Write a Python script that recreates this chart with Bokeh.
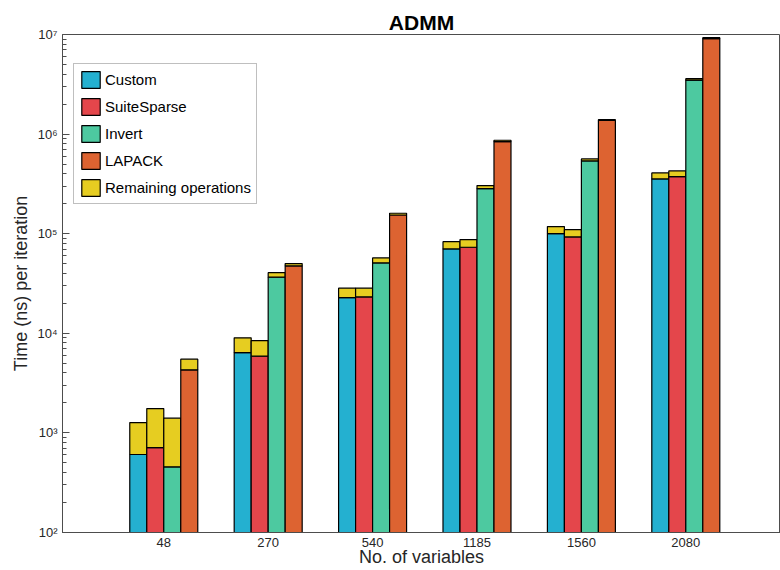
from bokeh.plotting import figure
from bokeh.models import Range1d, FixedTicker, CustomJSTickFormatter, Legend, LegendItem
from bokeh.embed import file_html
from bokeh.resources import INLINE

categories = ["48", "270", "540", "1185", "1560", "2080"]
series_names = ["Custom", "SuiteSparse", "Invert", "LAPACK"]
remaining_name = "Remaining operations"

custom_base = [607, 6400, 22800, 70300, 100200, 354800]
custom_rem = [663, 2600, 5600, 12900, 17600, 52800]
suite_base = [713, 5890, 23200, 73100, 92900, 374000]
suite_rem = [1040, 2560, 5200, 14100, 17000, 52600]
invert_base = [456, 36600, 50900, 283000, 538000, 3490000]
invert_rem = [950, 4000, 6200, 21000, 25000, 110000]
lapack_base = [4300, 47500, 154000, 840000, 1370000, 9100000]
lapack_rem = [1200, 2600, 6500, 27000, 26000, 190000]

series_colors = ["#24B0D0", "#E4464B", "#4DC9A0", "#DD6331"]
remaining_color = "#E6CD21"

FONT = "Liberation Sans"

p = figure(width=780, height=570, y_axis_type="log",
           x_range=Range1d(0.03, 6.907), y_range=Range1d(100, 1e7),
           output_backend="svg", toolbar_location=None,
           min_border_left=62, min_border_right=0, min_border_top=34, min_border_bottom=38)

p.xgrid.visible = False
p.ygrid.visible = False
p.outline_line_color = "#4d4d4d"
p.outline_line_width = 1

bases = [custom_base, suite_base, invert_base, lapack_base]
rems = [custom_rem, suite_rem, invert_rem, lapack_rem]
w = 0.1628
offsets = [-1.5, -0.5, 0.5, 1.5]
group_x = [i + 1 for i in range(len(categories))]

base_renderers = []
rem_renderers = []
for k in range(4):
    xs = [g + offsets[k] * w for g in group_x]
    tops = [b + r for b, r in zip(bases[k], rems[k])]
    rb = p.vbar(x=xs, width=w, bottom=100, top=bases[k], fill_color=series_colors[k],
                line_color="black", line_width=1.2)
    rr = p.vbar(x=xs, width=w, bottom=bases[k], top=tops, fill_color=remaining_color,
                line_color="black", line_width=1.2)
    base_renderers.append(rb)
    rem_renderers.append(rr)

items = [LegendItem(label=series_names[k], renderers=[base_renderers[k]]) for k in range(4)]
items.append(LegendItem(label=remaining_name, renderers=[rem_renderers[0]]))
legend = Legend(items=items, location=(11, 328), glyph_width=23, glyph_height=21,
                label_height=21, spacing=6, padding=5, margin=0, label_standoff=3,
                label_text_font=FONT, label_text_font_size="15px", label_text_color="black",
                border_line_color="#808080", border_line_width=1,
                background_fill_color="white", background_fill_alpha=1)
p.add_layout(legend)

# Y axis
yax = p.yaxis[0]
yax.ticker = FixedTicker(ticks=[1e2, 1e3, 1e4, 1e5, 1e6, 1e7],
                         minor_ticks=[m * 10 ** d for d in range(2, 7) for m in range(2, 10)])
yax.formatter = CustomJSTickFormatter(code="""
const sup = {2: "\u00b2", 3: "\u00b3", 4: "\u2074", 5: "\u2075", 6: "\u2076", 7: "\u2077"};
const e = Math.round(Math.log10(tick));
return "10" + sup[e];
""")
yax.major_tick_in = 7
yax.major_tick_out = 0
yax.minor_tick_in = 4
yax.minor_tick_out = 0
yax.axis_line_color = "#4d4d4d"
yax.major_tick_line_color = "#4d4d4d"
yax.minor_tick_line_color = "#4d4d4d"
yax.major_label_text_font = FONT
yax.major_label_text_font_size = "13px"
yax.major_label_text_color = "#262626"
yax.major_label_standoff = 5
yax.axis_label = "Time (ns) per iteration"
yax.axis_label_text_font = FONT
yax.axis_label_text_font_size = "18px"
yax.axis_label_text_font_style = "normal"
yax.axis_label_text_color = "#262626"
yax.axis_label_standoff = 3

# X axis
xax = p.xaxis[0]
xax.ticker = FixedTicker(ticks=group_x)
xax.formatter = CustomJSTickFormatter(args=dict(labels=categories),
                                      code="return labels[Math.round(tick) - 1] || '';")
xax.major_tick_in = 0
xax.major_tick_out = 0
xax.minor_tick_in = 0
xax.minor_tick_out = 0
xax.axis_line_color = "#4d4d4d"
xax.major_label_text_font = FONT
xax.major_label_text_font_size = "13px"
xax.major_label_text_color = "#262626"
xax.major_label_standoff = 5
xax.axis_label = "No. of variables"
xax.axis_label_text_font = FONT
xax.axis_label_text_font_size = "18px"
xax.axis_label_text_font_style = "normal"
xax.axis_label_text_color = "#262626"
xax.axis_label_standoff = -3

p.title.text = "ADMM"
p.title.align = "center"
p.title.vertical_align = "middle"
p.title.text_font = FONT
p.title.text_font_size = "21px"
p.title.text_font_style = "bold"
p.title.text_color = "black"
p.title.standoff = 0

open("out.html", "w").write(file_html(p, INLINE))
